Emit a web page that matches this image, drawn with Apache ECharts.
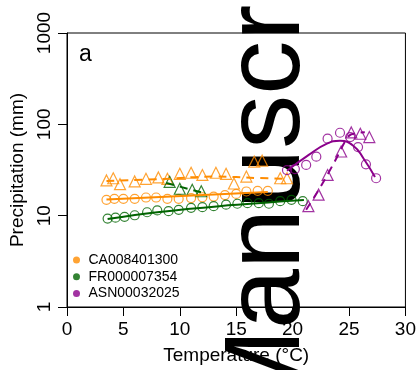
<!DOCTYPE html>
<html>
<head>
<meta charset="utf-8">
<script src="https://cdn.jsdelivr.net/npm/echarts@6/dist/echarts.min.js"></script>
<style>html,body{margin:0;padding:0;background:#fff}#c{width:419px;height:370px}</style>
</head>
<body>
<div id="c"></div>
<script>
// ---- data ----
const xTicks = [0, 5, 10, 15, 20, 25, 30];
const yTicks = [1, 10, 100, 1000];
const stationNames = ['CA008401300', 'FR000007354', 'ASN00032025'];

// CA008401300 (orange)
const caCircleT = [3.5, 4.2, 5.0, 6.0, 7.0, 7.9, 8.9, 9.9, 11.0, 12.0, 13.0, 14.0, 15.0, 15.9, 16.9, 17.8];
const caCircleP = [14.9, 15.3, 15.3, 15.3, 15.8, 15.8, 15.3, 15.3, 15.6, 15.9, 16.2, 16.8, 17.3, 18.4, 18.7, 18.7];
const caTriT = [3.5, 4.1, 4.7, 6.0, 7.0, 8.1, 8.9, 10.0, 11.0, 12.0, 13.2, 14.1, 14.8, 15.9, 16.6, 17.3, 18.9, 19.5];
const caTriP = [24.3, 25.7, 22.1, 23.7, 25.3, 26.2, 25.3, 28.7, 29.5, 27.9, 29.5, 28.7, 22.5, 26.8, 39, 40, 25.7, 25.7];
const caFitT = [3.5, 17.8];
const caFitP = [15.0, 18.2];
const caDashT = [3.5, 8.5, 13.0, 17.0, 19.5];
const caDashP = [24.0, 25.2, 26.8, 25.8, 25.3];

// FR000007354 (green)
const frCircleT = [3.6, 4.3, 5.1, 6.0, 7.1, 8.0, 9.0, 9.9, 11.0, 12.0, 13.0, 14.1, 15.1, 16.0, 17.0, 17.9, 18.9, 19.9, 20.9];
const frCircleP = [9.3, 9.5, 9.7, 10.1, 10.9, 11.4, 11.2, 11.6, 12.2, 12.4, 12.7, 13.2, 13.5, 13.7, 13.7, 13.5, 14.4, 14.9, 14.4];
const frTriT = [9.1, 10.0, 11.1, 11.9];
const frTriP = [23.5, 19.7, 19.2, 18.5];
const frFitT = [3.6, 8.0, 13.5, 21.0];
const frFitP = [9.2, 10.9, 12.7, 14.8];
const frDashT = [8.8, 12.2];
const frDashP = [22.8, 17.6];

// ASN00032025 (purple)
const asnCircleT = [19.5, 20.2, 21.2, 22.1, 23.1, 24.2, 25.1, 25.8, 26.5, 27.4];
const asnCircleP = [31.6, 32.4, 35.9, 44.2, 69.7, 80.9, 72.6, 56.4, 36.5, 25.7];
const asnTriT = [21.4, 22.3, 23.1, 24.3, 25.2, 26.0, 26.8];
const asnTriP = [12.7, 17.0, 27.9, 50.4, 81.5, 78.9, 72.6];
const asnFitT = [19.5, 21.4, 23.0, 24.2, 25.4, 26.3, 27.3];
const asnFitP = [31, 46, 61, 66, 58, 42, 26.5];
const asnDashT = [21.2, 22.5, 23.8, 25.0, 25.9, 26.4];
const asnDashP = [11.6, 20.9, 40.6, 75, 81, 82];

// ---- build ----
const F = '"Liberation Sans", Arial, sans-serif';
const C_OR = '#FF8C00', C_GR = '#006400', C_PU = '#8B008B';
const zip = (a, b) => a.map((v, i) => [v, b[i]]);

function pts(name, T, P, color, symbol, size) {
  return { type: 'scatter', name, data: zip(T, P), symbol, symbolSize: size, zlevel: 2, z: 3,
    itemStyle: { color: 'rgba(0,0,0,0)', borderColor: color, borderWidth: 1.2 } };
}
function line(name, T, P, color, dashed, smooth) {
  return { type: 'line', name, data: zip(T, P), showSymbol: false, smooth: smooth || false, zlevel: 2, z: 4,
    lineStyle: { color, width: 2, type: dashed ? [8, 6] : 'solid' } };
}

const series = [
  pts(stationNames[0], caCircleT, caCircleP, C_OR, 'circle', 9),
  pts('ca_tri', caTriT, caTriP, C_OR, 'triangle', 11),
  line('ca_fit', caFitT, caFitP, C_OR, false),
  line('ca_dash', caDashT, caDashP, C_OR, true, 0.4),
  pts(stationNames[1], frCircleT, frCircleP, C_GR, 'circle', 9),
  pts('fr_tri', frTriT, frTriP, C_GR, 'triangle', 11),
  line('fr_fit', frFitT, frFitP, C_GR, false, 0.4),
  line('fr_dash', frDashT, frDashP, C_GR, true),
  pts(stationNames[2], asnCircleT, asnCircleP, C_PU, 'circle', 9),
  pts('asn_tri', asnTriT, asnTriP, C_PU, 'triangle', 11),
  line('asn_fit', asnFitT, asnFitP, C_PU, false, 0.5),
  line('asn_dash', asnDashT, asnDashP, C_PU, true, 0.3)
];

const chart = echarts.init(document.getElementById('c'), null, { renderer: 'canvas' });
chart.setOption({
  animation: false,
  backgroundColor: '#fff',
  grid: { left: 67, right: 12, top: 33, bottom: 60, show: true, borderColor: '#000', borderWidth: 1, backgroundColor: 'transparent' },
  xAxis: {
    type: 'value', min: xTicks[0], max: xTicks[xTicks.length - 1], interval: 5,
    name: 'Temperature (°C)', nameLocation: 'middle', nameGap: 39,
    nameTextStyle: { fontSize: 19, color: '#000', fontFamily: F },
    axisLine: { show: true, onZero: false, lineStyle: { color: '#000', width: 1 } },
    axisTick: { show: true, length: 9, lineStyle: { color: '#000' } },
    axisLabel: { fontSize: 19, color: '#000', margin: 13, fontFamily: F },
    splitLine: { show: false }
  },
  yAxis: {
    type: 'log', logBase: 10, min: yTicks[0], max: yTicks[yTicks.length - 1],
    name: 'Precipitation (mm)', nameLocation: 'middle', nameGap: 40, nameRotate: 90,
    nameTextStyle: { fontSize: 19, color: '#000', fontFamily: F },
    axisLine: { show: true, onZero: false, lineStyle: { color: '#000', width: 1 } },
    axisTick: { show: true, length: 9, lineStyle: { color: '#000' } },
    axisLabel: { fontSize: 19, color: '#000', margin: 13, rotate: 90, fontFamily: F,
      formatter: v => String(Math.round(v)) },
    splitLine: { show: false }, minorTick: { show: false }
  },
  legend: {
    orient: 'vertical', left: 73, top: 253, itemWidth: 14, itemHeight: 7, itemGap: 2.7, padding: 0,
    textStyle: { fontSize: 14, color: '#000', fontFamily: F, lineHeight: 14 },
    data: [
      { name: stationNames[0], icon: 'circle', itemStyle: { color: C_OR, borderWidth: 0 } },
      { name: stationNames[1], icon: 'circle', itemStyle: { color: C_GR, borderWidth: 0 } },
      { name: stationNames[2], icon: 'circle', itemStyle: { color: C_PU, borderWidth: 0 } }
    ],
    selectedMode: false
  },
  graphic: [
    { type: 'text', x: 269, y: 419, rotation: Math.PI / 2, zlevel: 1, z: 2,
      style: { text: 'Manuscript', font: '108px "Liberation Sans", Arial, sans-serif', fill: '#000', align: 'left', verticalAlign: 'middle' } },
    { type: 'text', left: 79, top: 43, z: 2,
      style: { text: 'a', font: '23px "Liberation Sans", Arial, sans-serif', fill: '#000' } }
  ],
  series
});
</script>
</body>
</html>
